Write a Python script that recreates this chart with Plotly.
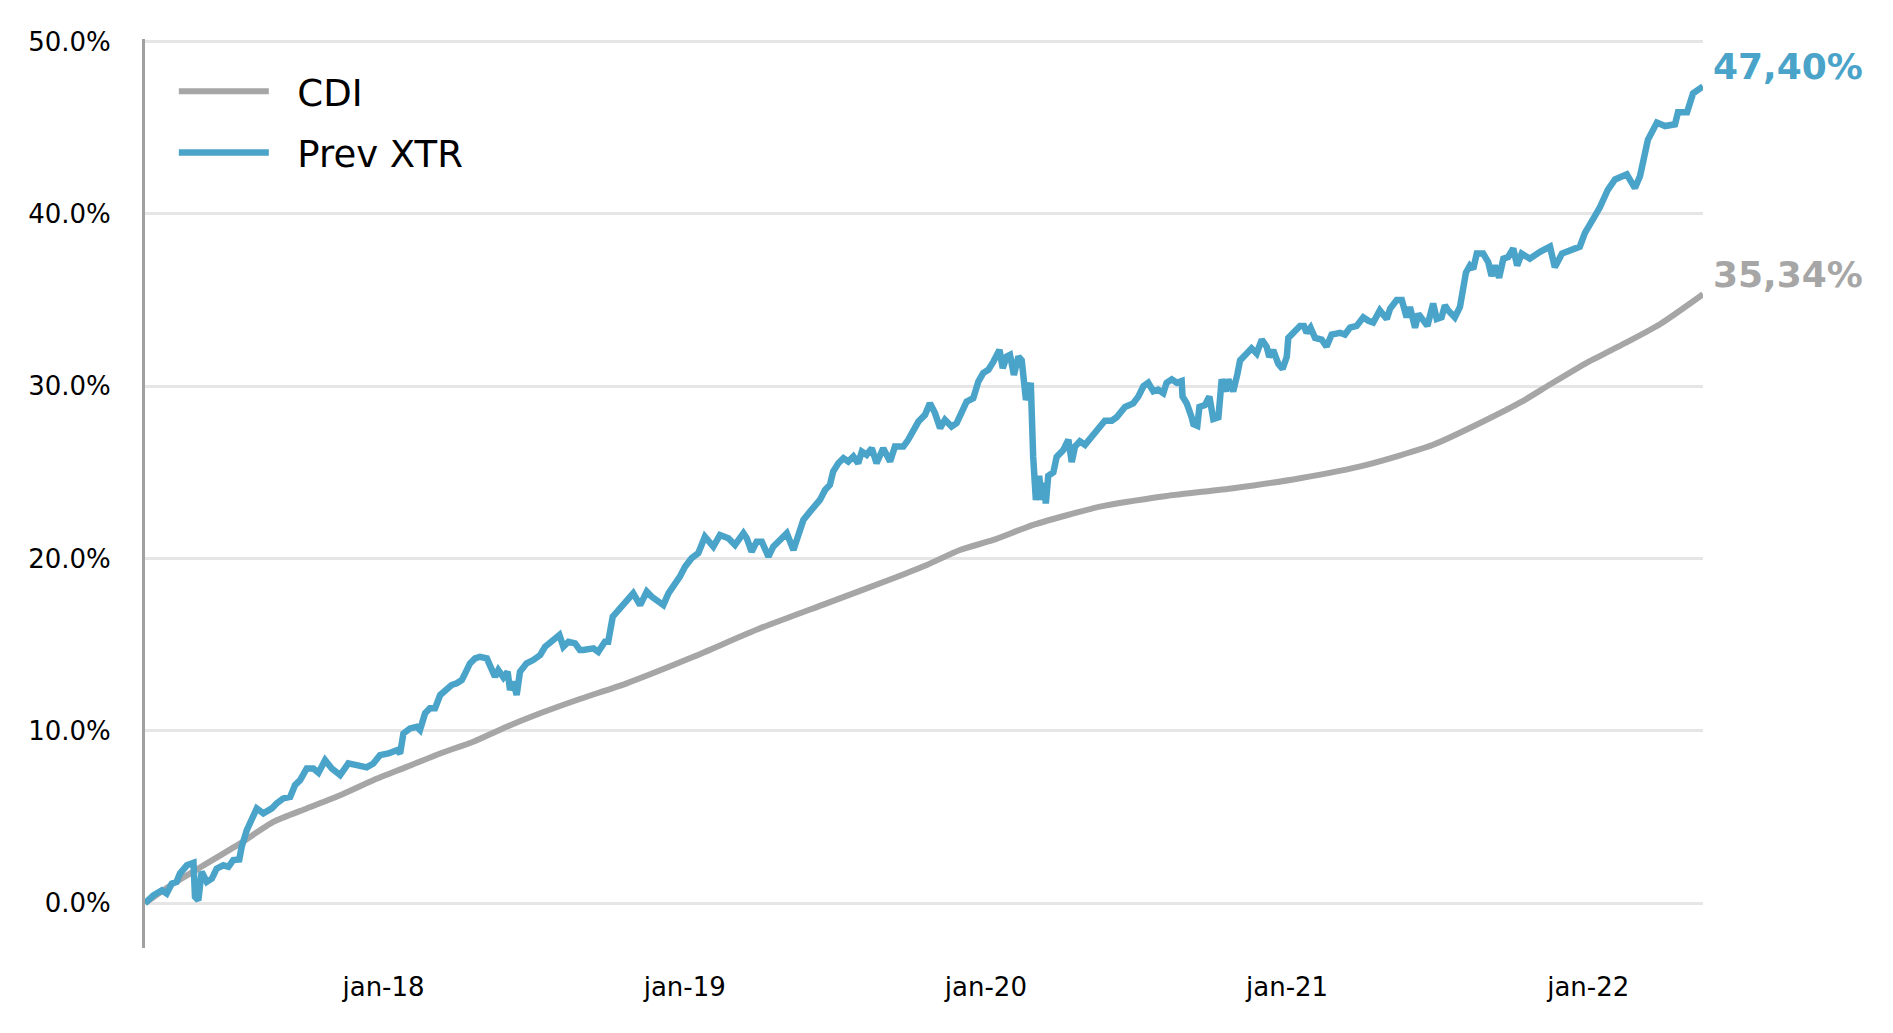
import plotly.graph_objects as go

# x positions as decimal years, values in %
xtr_x = [2017.208, 2017.236, 2017.264, 2017.280, 2017.297, 2017.313, 2017.324, 2017.347, 2017.369, 2017.374,
         2017.385, 2017.396, 2017.413, 2017.430, 2017.446, 2017.468, 2017.485, 2017.501, 2017.521, 2017.529,
         2017.546, 2017.562, 2017.579, 2017.601, 2017.629, 2017.645, 2017.667, 2017.690, 2017.706, 2017.723,
         2017.745, 2017.767, 2017.784, 2017.806, 2017.828, 2017.856, 2017.883, 2017.911, 2017.944, 2017.966,
         2017.988, 2018.016, 2018.044, 2018.055, 2018.066, 2018.088, 2018.110, 2018.121, 2018.138, 2018.154,
         2018.171, 2018.188, 2018.210, 2018.226, 2018.243, 2018.260, 2018.271, 2018.287, 2018.304, 2018.320,
         2018.343, 2018.354, 2018.370, 2018.381, 2018.398, 2018.412, 2018.420, 2018.431, 2018.442, 2018.453,
         2018.475, 2018.497, 2018.520, 2018.536, 2018.558, 2018.584, 2018.597, 2018.614, 2018.636, 2018.652,
         2018.663, 2018.697, 2018.713, 2018.735, 2018.746, 2018.761, 2018.780, 2018.802, 2018.829, 2018.852,
         2018.874, 2018.890, 2018.912, 2018.929, 2018.946, 2018.968, 2018.984, 2019.001, 2019.023, 2019.045,
         2019.067, 2019.095, 2019.117, 2019.145, 2019.167, 2019.195, 2019.206, 2019.222, 2019.239, 2019.256,
         2019.278, 2019.294, 2019.316, 2019.339, 2019.361, 2019.377, 2019.394, 2019.416, 2019.433, 2019.449,
         2019.466, 2019.482, 2019.493, 2019.510, 2019.527, 2019.543, 2019.560, 2019.576, 2019.588, 2019.604,
         2019.621, 2019.637, 2019.659, 2019.682, 2019.698, 2019.726, 2019.742, 2019.759, 2019.776, 2019.798,
         2019.814, 2019.831, 2019.848, 2019.864, 2019.886, 2019.903, 2019.914, 2019.925, 2019.936, 2019.958,
         2019.975, 2019.991, 2020.008, 2020.025, 2020.045, 2020.056, 2020.069, 2020.080, 2020.093, 2020.108,
         2020.119, 2020.133, 2020.149, 2020.157, 2020.166, 2020.177, 2020.185, 2020.191, 2020.199, 2020.207,
         2020.224, 2020.235, 2020.257, 2020.274, 2020.285, 2020.296, 2020.312, 2020.329, 2020.346, 2020.368,
         2020.395, 2020.418, 2020.434, 2020.462, 2020.489, 2020.506, 2020.523, 2020.539, 2020.556, 2020.572,
         2020.589, 2020.600, 2020.617, 2020.634, 2020.650, 2020.653, 2020.667, 2020.683, 2020.689, 2020.702,
         2020.709, 2020.727, 2020.742, 2020.755, 2020.772, 2020.783, 2020.797, 2020.805, 2020.821, 2020.835,
         2020.844, 2020.866, 2020.882, 2020.899, 2020.916, 2020.932, 2020.941, 2020.954, 2020.971, 2020.985,
         2020.999, 2021.004, 2021.021, 2021.043, 2021.056, 2021.065, 2021.078, 2021.093, 2021.115, 2021.131,
         2021.148, 2021.176, 2021.192, 2021.209, 2021.231, 2021.253, 2021.270, 2021.286, 2021.308, 2021.331,
         2021.342, 2021.364, 2021.381, 2021.397, 2021.408, 2021.425, 2021.436, 2021.452, 2021.466, 2021.485,
         2021.497, 2021.513, 2021.524, 2021.535, 2021.557, 2021.574, 2021.583, 2021.594, 2021.607, 2021.618,
         2021.630, 2021.651, 2021.668, 2021.679, 2021.690, 2021.704, 2021.718, 2021.734, 2021.751, 2021.764,
         2021.779, 2021.806, 2021.840, 2021.873, 2021.889, 2021.913, 2021.972, 2021.989, 2022.016, 2022.039,
         2022.065, 2022.089, 2022.128, 2022.155, 2022.172, 2022.198, 2022.228, 2022.255, 2022.288, 2022.298,
         2022.328, 2022.348, 2022.381]
xtr_y = [0.00, 0.46, 0.75, 0.56, 1.14, 1.24, 1.72, 2.20, 2.34, 0.37,
         0.17, 1.82, 1.24, 1.43, 2.01, 2.20, 2.11, 2.50, 2.54, 3.27,
         4.24, 4.82, 5.50, 5.21, 5.50, 5.79, 6.08, 6.17, 6.85, 7.14,
         7.82, 7.82, 7.57, 8.30, 7.82, 7.43, 8.11, 8.01, 7.88, 8.11,
         8.59, 8.69, 8.88, 8.69, 9.85, 10.14, 10.24, 10.05, 11.02, 11.31,
         11.31, 12.08, 12.47, 12.66, 12.76, 12.95, 13.34, 13.92, 14.21, 14.30,
         14.21, 13.72, 13.14, 13.53, 13.10, 13.43, 12.37, 12.85, 12.08, 13.43,
         13.92, 14.11, 14.40, 14.88, 15.17, 15.56, 14.88, 15.17, 15.08, 14.69,
         14.69, 14.79, 14.59, 15.17, 15.17, 16.63, 17.01, 17.40, 17.98, 17.30,
         18.08, 17.79, 17.50, 17.30, 17.98, 18.47, 18.95, 19.53, 20.02, 20.31,
         21.27, 20.69, 21.37, 21.18, 20.79, 21.47, 21.18, 20.40, 20.98, 20.98,
         20.11, 20.69, 21.08, 21.47, 20.50, 21.27, 22.24, 22.72, 23.11, 23.40,
         23.98, 24.27, 25.05, 25.53, 25.82, 25.63, 25.92, 25.53, 26.21, 26.02,
         26.40, 25.53, 26.40, 25.63, 26.50, 26.50, 26.89, 27.47, 27.95, 28.34,
         29.02, 28.44, 27.57, 28.05, 27.66, 27.86, 28.34, 28.63, 29.11, 29.31,
         30.27, 30.76, 30.95, 31.43, 32.11, 31.05, 31.72, 31.82, 30.66, 31.72,
         31.50, 29.20, 30.20, 25.90, 23.40, 24.80, 23.40, 24.40, 23.20, 24.80,
         25.00, 25.90, 26.30, 26.90, 25.60, 26.50, 26.80, 26.60, 27.00, 27.40,
         28.00, 28.00, 28.20, 28.80, 29.00, 29.40, 30.00, 30.20, 29.70, 29.80,
         29.60, 30.20, 30.40, 30.20, 30.30, 29.40, 29.00, 28.20, 27.80, 27.70,
         28.80, 28.90, 29.40, 28.10, 28.20, 30.40, 29.70, 30.40, 29.70, 30.70,
         31.50, 31.90, 32.20, 31.90, 32.70, 32.30, 31.70, 32.10, 31.30, 31.00,
         31.70, 32.80, 33.10, 33.50, 33.50, 33.10, 33.40, 32.80, 32.70, 32.30,
         33.00, 33.10, 33.00, 33.40, 33.50, 34.00, 33.80, 33.70, 34.40, 33.90,
         34.50, 35.00, 35.00, 34.00, 34.60, 33.40, 34.20, 33.90, 33.50, 34.80,
         33.90, 34.00, 34.70, 34.40, 34.00, 34.60, 35.50, 36.60, 37.00, 36.80,
         37.70, 37.70, 37.20, 36.40, 37.00, 36.30, 37.40, 37.50, 38.00, 37.00,
         37.70, 37.40, 37.80, 38.10, 36.90, 37.70, 38.10, 38.90, 39.70, 40.40,
         41.40, 42.00, 42.30, 41.50, 42.20, 44.30, 45.30, 45.10, 45.20, 45.90,
         45.90, 47.00, 47.40]

cdi_x = [2017.208, 2017.302, 2017.385, 2017.524, 2017.634, 2017.745, 2017.856, 2017.966, 2018.077, 2018.188,
         2018.298, 2018.409, 2018.520, 2018.652, 2018.807, 2019.029, 2019.250, 2019.471, 2019.693, 2019.804,
         2019.914, 2020.025, 2020.157, 2020.379, 2020.600, 2020.821, 2021.043, 2021.264, 2021.485, 2021.651,
         2021.779, 2021.873, 2021.999, 2022.122, 2022.238, 2022.381]
cdi_y = [0.00, 1.14, 2.01, 3.47, 4.72, 5.50, 6.27, 7.14, 7.91, 8.69,
         9.37, 10.24, 11.02, 11.85, 12.76, 14.30, 15.95, 17.40, 18.86, 19.63,
         20.50, 21.08, 21.95, 23.01, 23.63, 24.08, 24.66, 25.44, 26.60, 27.95,
         29.10, 30.10, 31.40, 32.50, 33.60, 35.34]

tick_vals = [2018, 2019, 2020, 2021, 2022]
tick_text = ["jan-18", "jan-19", "jan-20", "jan-21", "jan-22"]
y_tick_vals = [0, 10, 20, 30, 40, 50]
y_tick_text = ["0.0%", "10.0%", "20.0%", "30.0%", "40.0%", "50.0%"]

BLUE = "#4AA3C8"
GRAY = "#A6A6A6"
FONT = "DejaVu Sans"
NBSP = "\u00a0"

fig = go.Figure()
fig.add_trace(go.Scatter(x=cdi_x, y=cdi_y, name=NBSP * 2 + "CDI", mode="lines", legendgroup="cdi",
                         line=dict(color=GRAY, width=6, shape="spline", smoothing=0.6)))
fig.add_trace(go.Scatter(x=xtr_x, y=xtr_y, name=NBSP * 2 + "Prev XTR", mode="lines", legendgroup="xtr",
                         line=dict(color=BLUE, width=6.5)))


def pct_label(v):
    return f"{v:.2f}".replace(".", ",") + "%"


fig.add_annotation(x=xtr_x[-1], y=xtr_y[-1], text="<b>" + pct_label(xtr_y[-1]) + "</b>",
                   showarrow=False, xanchor="left", yanchor="middle", xshift=8, yshift=20,
                   font=dict(family=FONT, size=36, color=BLUE))
fig.add_annotation(x=cdi_x[-1], y=cdi_y[-1], text="<b>" + pct_label(cdi_y[-1]) + "</b>",
                   showarrow=False, xanchor="left", yanchor="middle", xshift=8, yshift=20,
                   font=dict(family=FONT, size=36, color=GRAY))

fig.update_layout(
    width=1877, height=1017,
    margin=dict(l=137, r=182, t=31, b=77),
    paper_bgcolor="white", plot_bgcolor="white",
    font=dict(family=FONT, size=26, color="black"),
    showlegend=True,
    legend=dict(x=0.0185, y=0.976, xanchor="left", yanchor="top",
                font=dict(family=FONT, size=37, color="black"),
                bgcolor="rgba(0,0,0,0)", itemwidth=90, tracegroupgap=10),
    xaxis=dict(range=[xtr_x[0], xtr_x[-1]], tickvals=tick_vals, ticktext=tick_text,
               showgrid=False, zeroline=False, showline=False,
               ticks="outside", ticklen=16, tickcolor="rgba(0,0,0,0)",
               tickfont=dict(family=FONT, size=26, color="black")),
    yaxis=dict(range=[-2.6, 50.15], tickvals=y_tick_vals, ticktext=y_tick_text,
               showgrid=True, gridcolor="#E6E6E6", gridwidth=3, zeroline=False,
               showline=True, linecolor="#A0A0A0", linewidth=3,
               ticks="outside", ticklen=26, tickcolor="rgba(0,0,0,0)",
               tickfont=dict(family=FONT, size=26, color="black")),
)

fig.write_html("out.html")
